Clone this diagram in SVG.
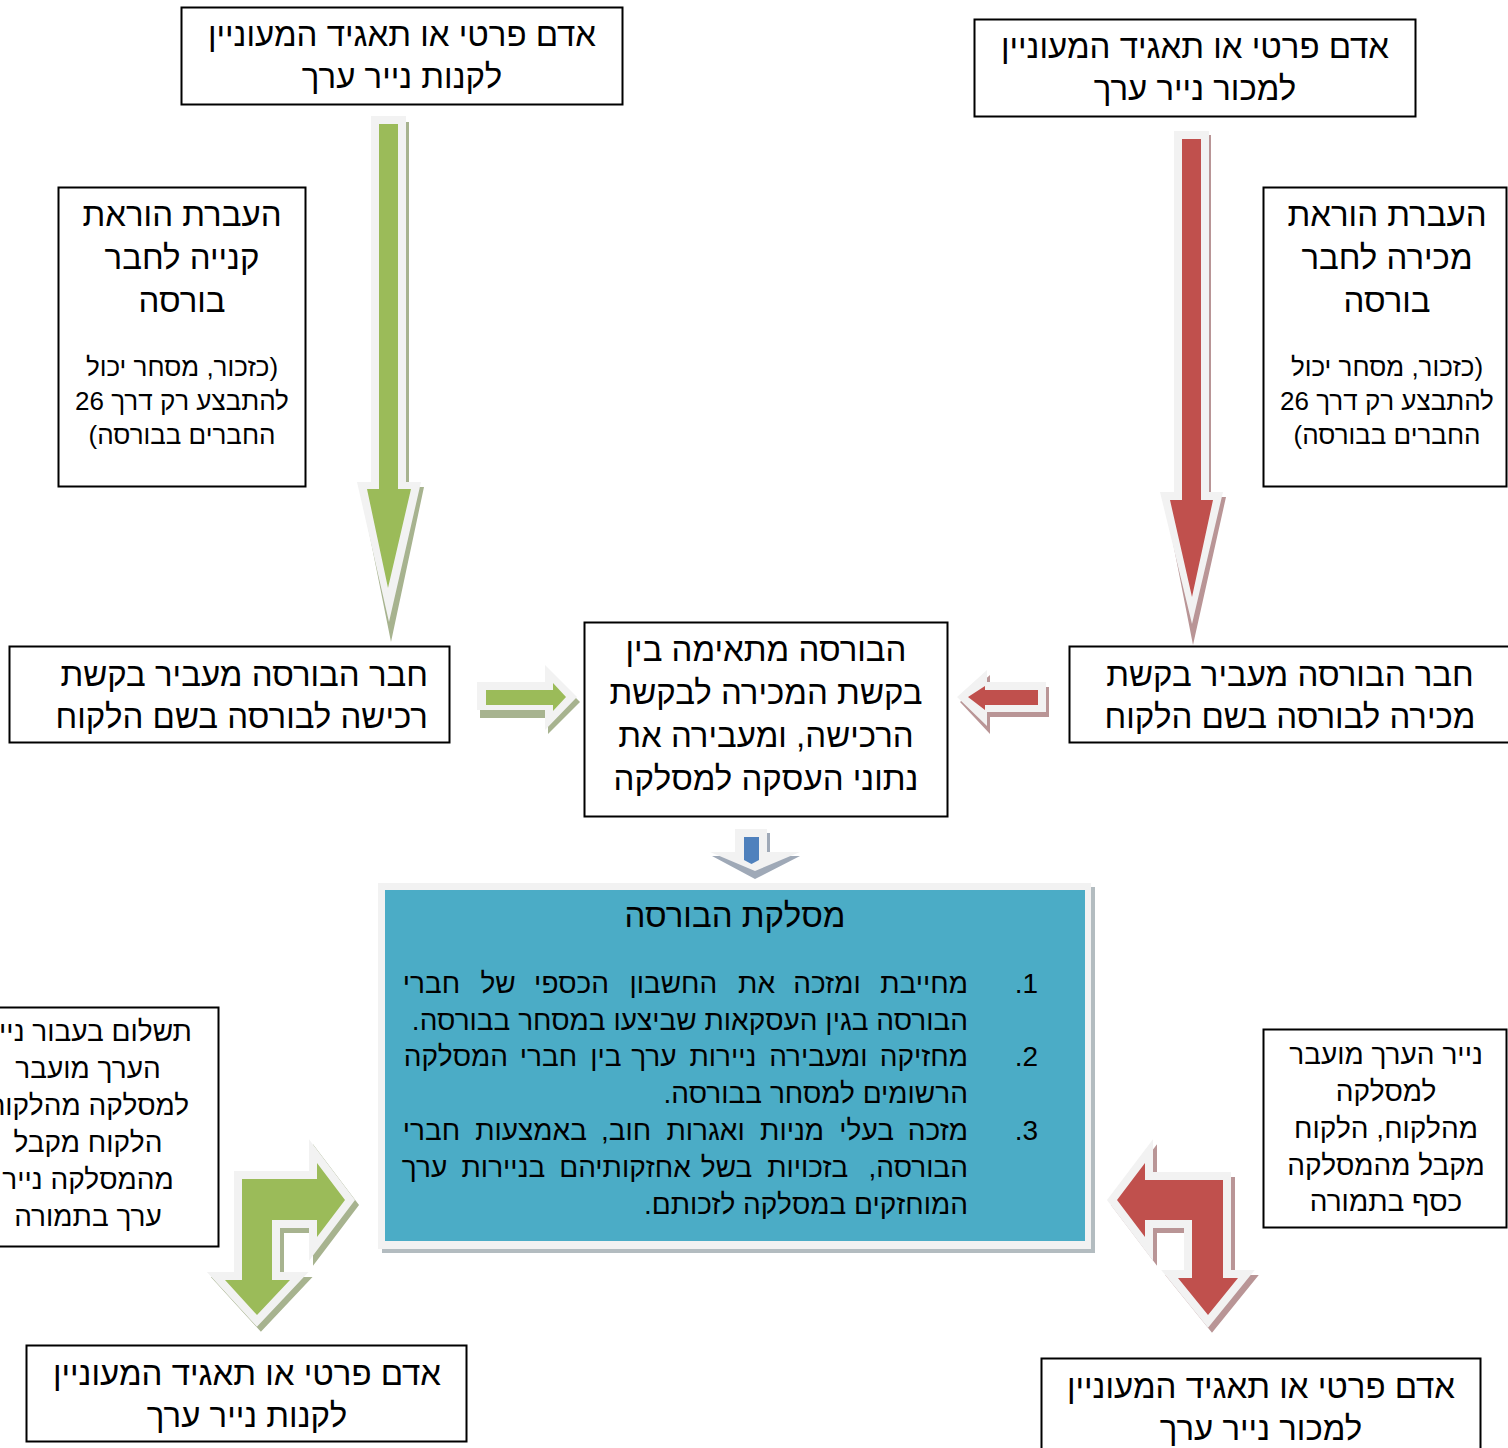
<svg xmlns="http://www.w3.org/2000/svg" width="1508" height="1448" viewBox="0 0 1508 1448">
<style>
.box{fill:#fff;stroke:#000;stroke-width:2}
text{font-family:"Liberation Sans","DejaVu Sans",sans-serif;fill:#000}
.c{text-anchor:middle;direction:rtl}
.r{text-anchor:start;direction:rtl}
.f30{font-size:33px}
.f24{font-size:26px}
.f26{font-size:28px}
.hl{fill:#f2f2f2}
.gshadow{fill:#a7b38f}
.rshadow{fill:#b99596}
.green{fill:#9bbb59}
.red{fill:#c0504d}
</style>
<rect width="1508" height="1448" fill="#fff"/>

<g id="connectors">
  <g id="arrow-green-down">
    <polygon class="gshadow" points="375,122 409,122 409,487 424,487 391,642 360,487 375,487"/>
    <polygon class="hl" points="371,116 406,116 406,482 421,482 389,622 357,482 371,482"/>
    <polygon class="green" points="379,124 398,124 398,489 411,489 388,588 367,489 379,489"/>
  </g>
  <g id="arrow-red-down">
    <polygon class="rshadow" points="1178,135 1211,135 1211,497 1226,497 1193,645 1164,497 1178,497"/>
    <polygon class="hl" points="1174,131 1209,131 1209,492 1223,492 1192,624 1160,492 1174,492"/>
    <polygon class="red" points="1182,139 1201,139 1201,500 1213,500 1192,597 1170,500 1182,500"/>
  </g>
  <g id="arrow-green-right">
    <polygon class="gshadow" points="480,687 548,687 548,670 580,702 548,734 548,718 480,718"/>
    <polygon class="hl" points="477,682 545,682 545,665 577,697 545,730 545,710 477,710"/>
    <polygon class="green" points="486,690 553,690 553,683 566,697 553,711 553,705 486,705"/>
  </g>
  <g id="arrow-red-left">
    <polygon class="rshadow" points="960,702 990,675 990,687 1049,687 1049,717 990,717 990,734"/>
    <polygon class="hl" points="957,697 987,670 987,682 1046,682 1046,712 987,712 987,726"/>
    <polygon class="red" points="968,697 985,686 985,690 1038,690 1038,705 985,705 985,710"/>
  </g>
  <g id="arrow-blue-down">
    <polygon fill="#9fa9b7" points="739,833 770,833 770,856 800,856 755,879 712,856 739,856"/>
    <polygon class="hl" points="735,829 767,829 767,852 800,852 755,871 710,852 735,852"/>
    <path fill="#4f81bd" d="M744,837 H759 V860 L751.5,864 L744,860 Z"/>
  </g>
  <g id="arrow-green-bent" stroke-linejoin="miter" stroke-width="16">
    <polygon class="gshadow" stroke="#a7b38f" transform="translate(4,5)" points="242,1179 317,1179 317,1163 345,1200 317,1237 317,1220 272,1220 272,1280 290,1280 257,1315 225,1280 242,1280"/>
    <polygon class="green" stroke="#f2f2f2" paint-order="stroke" points="242,1179 317,1179 317,1163 345,1200 317,1237 317,1220 272,1220 272,1280 290,1280 257,1315 225,1280 242,1280"/>
  </g>
  <g id="arrow-red-bent" stroke-linejoin="miter" stroke-width="16">
    <polygon class="rshadow" stroke="#b99596" transform="translate(4,5)" points="1117,1200 1145,1163 1145,1180 1223,1180 1223,1278 1238,1278 1208,1315 1178,1278 1192,1278 1192,1220 1145,1220 1145,1237"/>
    <polygon class="red" stroke="#f2f2f2" paint-order="stroke" points="1117,1200 1145,1163 1145,1180 1223,1180 1223,1278 1238,1278 1208,1315 1178,1278 1192,1278 1192,1220 1145,1220 1145,1237"/>
  </g>
</g>

<g id="buyer-top">
  <rect class="box" x="181.5" y="7.5" width="441" height="97"/>
  <text class="c f30" x="402" y="46">אדם פרטי או תאגיד המעוניין</text>
  <text class="c f30" x="402" y="88">לקנות נייר ערך</text>
</g>

<g id="seller-top">
  <rect class="box" x="974.5" y="19.5" width="441" height="97"/>
  <text class="c f30" x="1195" y="58">אדם פרטי או תאגיד המעוניין</text>
  <text class="c f30" x="1195" y="100">למכור נייר ערך</text>
</g>

<g id="buy-order">
  <rect class="box" x="58.5" y="187.5" width="247" height="299"/>
  <text class="c f30" x="182" y="226">העברת הוראת</text>
  <text class="c f30" x="182" y="269">קנייה לחבר</text>
  <text class="c f30" x="182" y="312">בורסה</text>
  <text class="c f24" x="182" y="376">(כזכור, מסחר יכול</text>
  <text class="c f24" x="182" y="410">להתבצע רק דרך 26</text>
  <text class="c f24" x="182" y="444">החברים בבורסה)</text>
</g>

<g id="sell-order">
  <rect class="box" x="1263.5" y="187.5" width="243" height="299"/>
  <text class="c f30" x="1387" y="226">העברת הוראת</text>
  <text class="c f30" x="1387" y="269">מכירה לחבר</text>
  <text class="c f30" x="1387" y="312">בורסה</text>
  <text class="c f24" x="1387" y="376">(כזכור, מסחר יכול</text>
  <text class="c f24" x="1387" y="410">להתבצע רק דרך 26</text>
  <text class="c f24" x="1387" y="444">החברים בבורסה)</text>
</g>

<g id="member-buy">
  <rect class="box" x="9.5" y="646.5" width="440" height="96"/>
  <text class="r f30" x="428" y="686">חבר הבורסה מעביר בקשת</text>
  <text class="r f30" x="428" y="728">רכישה לבורסה בשם הלקוח</text>
</g>

<g id="member-sell">
  <rect class="box" x="1069.5" y="646.5" width="445" height="96"/>
  <text class="c f30" x="1290" y="686">חבר הבורסה מעביר בקשת</text>
  <text class="c f30" x="1290" y="728">מכירה לבורסה בשם הלקוח</text>
</g>

<g id="exchange-match">
  <rect class="box" x="584.5" y="622.5" width="363" height="194"/>
  <text class="c f30" x="766" y="661">הבורסה מתאימה בין</text>
  <text class="c f30" x="766" y="704">בקשת המכירה לבקשת</text>
  <text class="c f30" x="766" y="747">הרכישה, ומעבירה את</text>
  <text class="c f30" x="766" y="790">נתוני העסקה למסלקה</text>
</g>

<g id="clearing-house">
  <rect x="382" y="887" width="713" height="366" fill="#b3bcc0"/>
  <rect x="378" y="883" width="713" height="366" fill="#f2f2f2"/>
  <rect x="385" y="890" width="700" height="351" fill="#4bacc6"/>
  <text class="c f30" x="735" y="927">מסלקת הבורסה</text>
  <text class="r f26" x="1038" y="993">1.</text>
  <text class="r f26" x="968" y="993">מחייבת</text>
  <text class="r f26" x="860.7" y="993">ומזכה</text>
  <text class="r f26" x="775" y="993">את</text>
  <text class="r f26" x="717.3" y="993">החשבון</text>
  <text class="r f26" x="609" y="993">הכספי</text>
  <text class="r f26" x="515.7" y="993">של</text>
  <text class="r f26" x="460.1" y="993">חברי</text>
  <text class="r f26" x="968" y="1030">הבורסה בגין העסקאות שביצעו במסחר בבורסה.</text>
  <text class="r f26" x="1038" y="1066">2.</text>
  <text class="r f26" x="968" y="1066">מחזיקה</text>
  <text class="r f26" x="867.6" y="1066">ומעבירה</text>
  <text class="r f26" x="756.5" y="1066">ניירות</text>
  <text class="r f26" x="676.6" y="1066">ערך</text>
  <text class="r f26" x="621.5" y="1066">בין</text>
  <text class="r f26" x="577.1" y="1066">חברי</text>
  <text class="r f26" x="508" y="1066">המסלקה</text>
  <text class="r f26" x="968" y="1103">הרשומים למסחר בבורסה.</text>
  <text class="r f26" x="1038" y="1140">3.</text>
  <text class="r f26" x="968" y="1140">מזכה</text>
  <text class="r f26" x="893.9" y="1140">בעלי</text>
  <text class="r f26" x="824.1" y="1140">מניות</text>
  <text class="r f26" x="744.7" y="1140">ואגרות</text>
  <text class="r f26" x="651.3" y="1140">חוב,</text>
  <text class="r f26" x="586.9" y="1140">באמצעות</text>
  <text class="r f26" x="460.1" y="1140">חברי</text>
  <text class="r f26" x="968" y="1177">הבורסה,</text>
  <text class="r f26" x="848.3" y="1177">בזכויות</text>
  <text class="r f26" x="752.3" y="1177">בשל</text>
  <text class="r f26" x="690.8" y="1177">אחזקותיהם</text>
  <text class="r f26" x="545.3" y="1177">בניירות</text>
  <text class="r f26" x="447.2" y="1177">ערך</text>
  <text class="r f26" x="968" y="1214">המוחזקים במסלקה לזכותם.</text>
</g>

<g id="payment-note">
  <rect class="box" x="-20" y="1007.5" width="238.5" height="239"/>
  <text class="c f26" x="88" y="1041">תשלום בעבור נייר</text>
  <text class="c f26" x="88" y="1078">הערך מועבר</text>
  <text class="c f26" x="88" y="1115">למסלקה מהלקוח</text>
  <text class="c f26" x="88" y="1152">הלקוח מקבל</text>
  <text class="c f26" x="88" y="1189">מהמסלקה נייר</text>
  <text class="c f26" x="88" y="1226">ערך בתמורה</text>
</g>

<g id="security-note">
  <rect class="box" x="1263.5" y="1029.5" width="243" height="198"/>
  <text class="c f26" x="1386" y="1064">נייר הערך מועבר</text>
  <text class="c f26" x="1386" y="1101">למסלקה</text>
  <text class="c f26" x="1386" y="1138">מהלקוח, הלקוח</text>
  <text class="c f26" x="1386" y="1175">מקבל מהמסלקה</text>
  <text class="c f26" x="1386" y="1211">כסף בתמורה</text>
</g>

<g id="buyer-bottom">
  <rect class="box" x="26.5" y="1345.5" width="440" height="96"/>
  <text class="c f30" x="247" y="1385">אדם פרטי או תאגיד המעוניין</text>
  <text class="c f30" x="247" y="1427">לקנות נייר ערך</text>
</g>

<g id="seller-bottom">
  <rect class="box" x="1041.5" y="1358.5" width="439" height="100"/>
  <text class="c f30" x="1261" y="1398">אדם פרטי או תאגיד המעוניין</text>
  <text class="c f30" x="1261" y="1440">למכור נייר ערך</text>
</g>
</svg>
